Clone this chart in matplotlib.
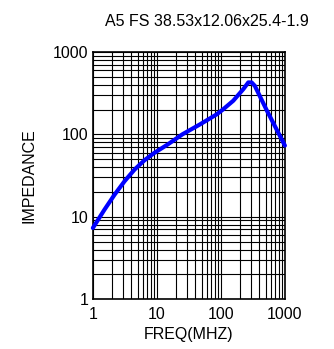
import numpy as np
import matplotlib
matplotlib.use('Agg')
import matplotlib.pyplot as plt
from matplotlib.ticker import LogLocator, NullFormatter, FixedLocator

plt.rcParams['font.family'] = ['Liberation Sans', 'DejaVu Sans']

# impedance curve
freq = [1, 1.52, 2.18, 3.13, 4.48, 6.4, 9.2, 14.8, 25, 47, 86, 109, 156,
        224, 268, 302, 339, 517, 1000]
imped = [7.3, 12.2, 18.5, 27, 37.4, 48.5, 59.8, 75.5, 100, 132, 175, 202,
         256, 354, 427, 427, 388, 198, 73]
ticks = [1, 10, 100, 1000]
tick_labels = ['1', '10', '100', '1000']

fig = plt.figure(figsize=(3.34, 3.49), dpi=100)
ax = fig.add_axes([0.278, 0.143, 0.575, 0.708])

ax.plot(freq, imped, color='#0000ff', lw=3, solid_joinstyle='round',
        solid_capstyle='round', zorder=3, clip_on=False)

ax.set_xscale('log')
ax.set_yscale('log')
ax.set_xlim(1, 1000)
ax.set_ylim(1, 1000)

for axis in (ax.xaxis, ax.yaxis):
    axis.set_major_locator(FixedLocator(ticks))
    axis.set_minor_locator(LogLocator(base=10, subs=np.arange(2, 10)))
    axis.set_minor_formatter(NullFormatter())
ax.set_xticklabels(tick_labels)
ax.set_yticklabels(tick_labels)

ax.grid(True, which='both', color='black', lw=0.8)
ax.tick_params(which='both', length=0, labelsize=11.5)
ax.tick_params(axis='x', pad=6)
ax.tick_params(axis='y', pad=3)
for s in ax.spines.values():
    s.set_linewidth(1.2)

ax.set_xlabel('FREQ(MHZ)', fontsize=11.5, labelpad=3)
ax.set_ylabel('IMPEDANCE', fontsize=11.5, labelpad=12)
fig.text(0.62, 0.937, 'A5 FS 38.53x12.06x25.4-1.9', ha='center', va='center',
         fontsize=11.5)

fig.savefig('out.png', dpi=100)
